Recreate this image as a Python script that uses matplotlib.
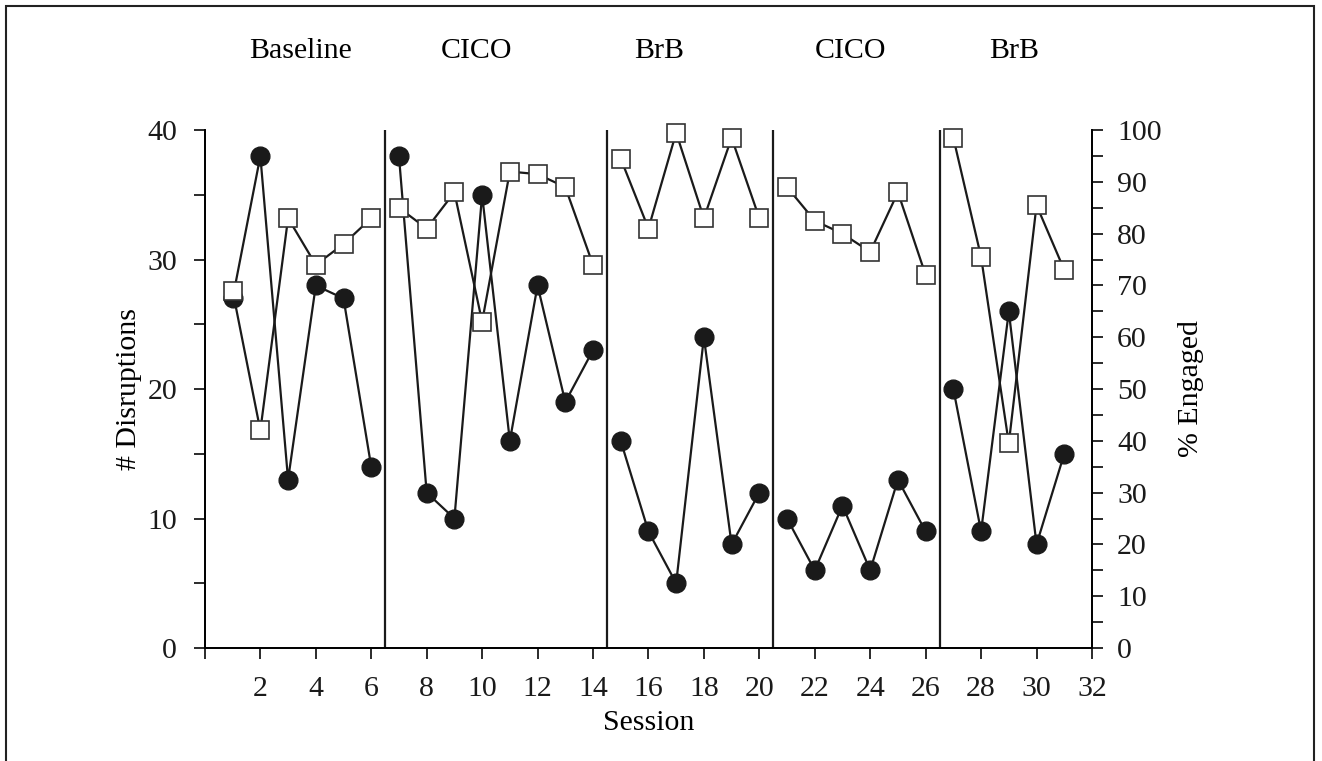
from matplotlib import pyplot as plt
from matplotlib.patches import Rectangle
from matplotlib.ticker import MultipleLocator

# Data
sessions = list(range(1, 32))
disruptions = [27, 38, 13, 28, 27, 14,
               38, 12, 10, 35, 16, 28, 19, 23,
               16, 9, 5, 24, 8, 12,
               10, 6, 11, 6, 13, 9,
               20, 9, 26, 8, 15]
engaged = [69, 42, 83, 74, 78, 83,
           85, 81, 88, 63, 92, 91.5, 89, 74,
           94.5, 81, 99.5, 83, 98.5, 83,
           89, 82.5, 80, 76.5, 88, 72,
           98.5, 75.5, 39.5, 85.5, 73]
phase_names = ['Baseline', 'CICO', 'BrB', 'CICO', 'BrB']
phase_lengths = [6, 8, 6, 6, 5]
phase_label_x = [3.45, 9.8, 16.4, 23.3, 29.2]

plt.rcParams['font.family'] = ['Liberation Serif', 'DejaVu Serif']
FS = 21.5

fig = plt.figure(figsize=(13.22, 7.61), dpi=100)
ax = fig.add_axes([0.155, 0.1485, 0.671, 0.6805])
ax2 = ax.twinx()

# frame around the whole figure (bottom edge is cut off in the reference)
fig.patches.append(Rectangle((5.5 / 1322, -0.05), 1308 / 1322, 1.05 - 6 / 761,
                             transform=fig.transFigure, fill=False, ec='#222222', lw=1.5))

start = 0
for name, n, lx in zip(phase_names, phase_lengths, phase_label_x):
    xs = sessions[start:start + n]
    ax.plot(xs, disruptions[start:start + n], color='#1a1a1a', lw=1.6, marker='o',
            markersize=13.5, markerfacecolor='#1a1a1a', markeredgecolor='#1a1a1a',
            zorder=3, clip_on=False)
    ax2.plot(xs, engaged[start:start + n], color='#1a1a1a', lw=1.6, marker='s',
             markersize=13, markerfacecolor='white', markeredgecolor='#333333',
             markeredgewidth=1.2, zorder=3, clip_on=False)
    ax.text(lx, 46.1, name, ha='center', va='center', fontsize=FS, clip_on=False)
    start += n
    if start < len(sessions):
        ax.axvline(start + 0.5, color='#1a1a1a', lw=1.6, zorder=2)

ax.set_xlim(0, 32)
ax.set_ylim(0, 40)
ax2.set_ylim(0, 100)

ax.set_xticks(range(0, 33, 2))
ax.set_xticklabels([''] + [str(v) for v in range(2, 33, 2)])
ax.yaxis.set_major_locator(MultipleLocator(10))
ax.yaxis.set_minor_locator(MultipleLocator(5))
ax2.yaxis.set_major_locator(MultipleLocator(10))
ax2.yaxis.set_minor_locator(MultipleLocator(5))

for a in (ax, ax2):
    a.spines['top'].set_visible(False)
    for s in a.spines.values():
        s.set_linewidth(1.3)
    a.tick_params(which='both', direction='out', width=1.3, colors='#1a1a1a')
    a.tick_params(which='major', length=8, labelsize=FS)
    a.tick_params(which='minor', length=8)
ax.tick_params(axis='x', pad=12)
ax.tick_params(axis='y', pad=12)
ax2.tick_params(axis='y', pad=10)

ax.set_xlabel('Session', fontsize=FS, labelpad=6)
ax.set_ylabel('# Disruptions', fontsize=FS, labelpad=4)
ax2.set_ylabel('% Engaged', fontsize=FS, labelpad=12)

fig.savefig('out.png', dpi=100)
